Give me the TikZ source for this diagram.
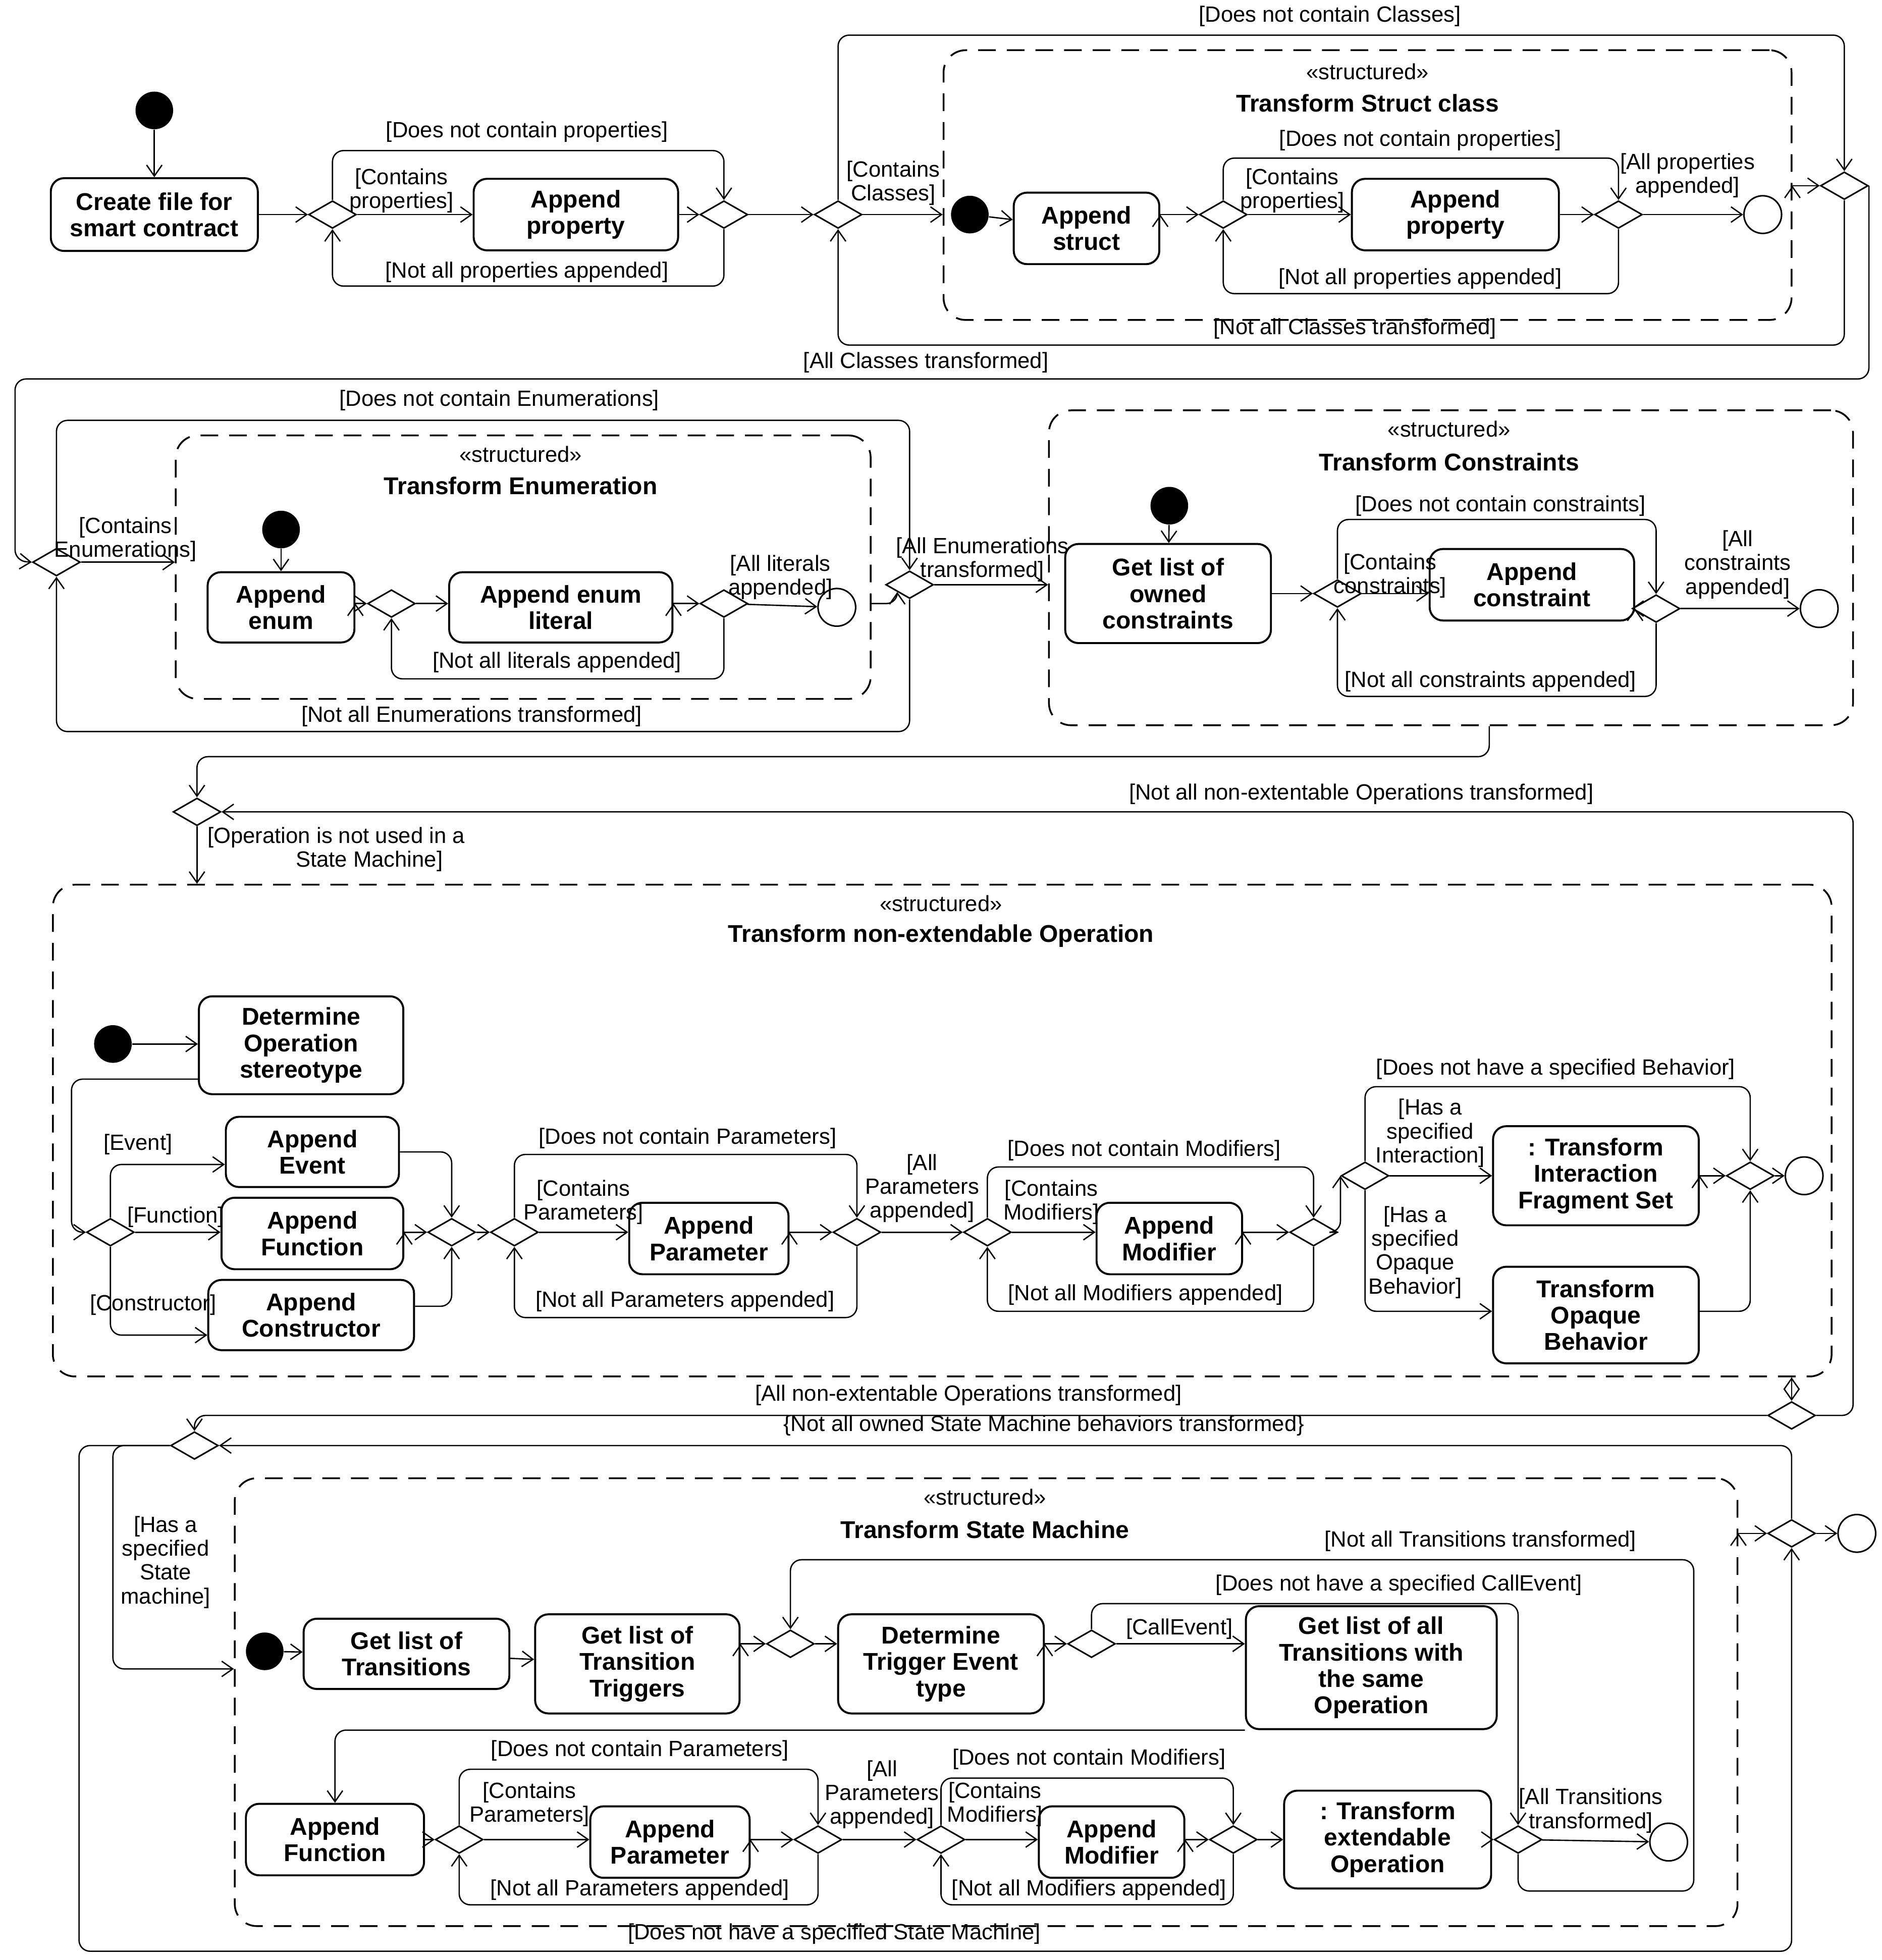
\documentclass[tikz,border=0pt]{standalone}
\usepackage{fontspec}
\setmainfont{Liberation Sans}
\usetikzlibrary{shapes.geometric,arrows.meta}
\begin{document}
\begin{tikzpicture}[x=0.02cm,y=-0.02cm,
    act/.style ={rectangle, rounded corners=6pt, draw=black, line width=0.9pt, fill=white, align=center, font=\fontsize{11}{12}\selectfont\bfseries, inner sep=1pt},
    dec/.style ={diamond, draw=black, line width=0.7pt, fill=white, minimum width=0.76cm, minimum height=0.44cm, inner sep=0pt},
    init/.style ={circle, fill=black, minimum size=0.6cm, inner sep=0pt},
    fin/.style ={circle, draw=black, line width=0.7pt, fill=white, minimum size=0.6cm, inner sep=0pt, path picture={\fill (path picture bounding box.center) circle (0.17cm);}},
    region/.style ={rectangle, rounded corners=10pt, draw=black, line width=0.8pt, dash pattern=on 8pt off 5pt},
    lbl/.style ={align=center, inner sep=0pt, font=\fontsize{10}{10.8}\selectfont},
    ttl/.style ={inner sep=0pt, font=\fontsize{11}{12}\selectfont\bfseries},
    line/.style ={draw, line width=0.6pt, rounded corners=5pt, -{Straight Barb[length=5pt,width=7pt]}}]
    \useasboundingbox (0,0) rectangle (1500,1562);
    % top row: file and Struct classes
    \node [init] (i1) at (123,88) {};
    \node [act, minimum width=3.3cm, minimum height=1.16cm] (create) at (123,171) {Create file for\\smart contract};
    \node [dec] (d1) at (265,171) {};
    \node [act, minimum width=3.26cm, minimum height=1.14cm] (aprop1) at (459,171) {Append\\property};
    \node [dec] (d2) at (577,171) {};
    \node [dec] (d3) at (668,171) {};
    \node [region, minimum width=13.52cm, minimum height=4.3cm] (struct) at (1090,147.5) {};
    \node [lbl] (sst1) at (1090,57) {«structured»};
    \node [ttl] (tst1) at (1090,82) {Transform Struct class};
    \node [init] (i2) at (773,171) {};
    \node [act, minimum width=2.32cm, minimum height=1.14cm] (astruct) at (866,182) {Append\\struct};
    \node [dec] (d5) at (975,171) {};
    \node [act, minimum width=3.3cm, minimum height=1.14cm] (aprop2) at (1160,171) {Append\\property};
    \node [dec] (d6) at (1290,171) {};
    \node [fin] (f1) at (1405,171) {};
    \node [dec] (d4) at (1470,148) {};
    % second row: Enumerations and Constraints
    \node [dec] (d7) at (45,448) {};
    \node [region, minimum width=11.08cm, minimum height=4.2cm] (enum) at (417,452) {};
    \node [lbl] (sst2) at (415,362) {«structured»};
    \node [ttl] (tst2) at (415,387) {Transform Enumeration};
    \node [init] (i3) at (224,422) {};
    \node [act, minimum width=2.34cm, minimum height=1.12cm] (aenum) at (224,484) {Append\\enum};
    \node [dec] (d9) at (312,481) {};
    \node [act, minimum width=3.56cm, minimum height=1.12cm] (alit) at (447,484) {Append enum\\literal};
    \node [dec] (d10) at (577,481) {};
    \node [fin] (f2) at (667,484) {};
    \node [dec] (d8) at (725,466) {};
    \node [region, minimum width=12.82cm, minimum height=5.02cm] (cons) at (1156.5,452.5) {};
    \node [lbl] (sst3) at (1155,342) {«structured»};
    \node [ttl] (tst3) at (1155,368) {Transform Constraints};
    \node [init] (i4) at (932,403) {};
    \node [act, minimum width=3.28cm, minimum height=1.58cm] (getcons) at (931,473) {Get list of\\owned\\constraints};
    \node [dec] (d11) at (1066,473) {};
    \node [act, minimum width=3.26cm, minimum height=1.14cm] (acons) at (1221,466) {Append\\constraint};
    \node [dec] (d12) at (1320,485) {};
    \node [fin] (f3) at (1450,485) {};
    % third row: non-extendable Operation
    \node [dec] (d13) at (157,647) {};
    \node [region, minimum width=28.36cm, minimum height=7.84cm] (op) at (751,901) {};
    \node [lbl] (sst4) at (750,720) {«structured»};
    \node [ttl] (tst4) at (750,746) {Transform non-extendable Operation};
    \node [init] (i5) at (90,832) {};
    \node [act, minimum width=3.26cm, minimum height=1.56cm] (detop) at (240,833) {Determine\\Operation\\stereotype};
    \node [dec] (d15) at (88,982) {};
    \node [act, minimum width=2.76cm, minimum height=1.12cm] (aevent) at (249,918) {Append\\Event};
    \node [act, minimum width=2.9cm, minimum height=1.14cm] (afunc) at (249,983) {Append\\Function};
    \node [act, minimum width=3.28cm, minimum height=1.12cm] (aconst) at (248,1048) {Append\\Constructor};
    \node [dec] (d16) at (360,982) {};
    \node [dec] (d17) at (410,982) {};
    \node [act, minimum width=2.54cm, minimum height=1.14cm] (apar) at (565,987) {Append\\Parameter};
    \node [dec] (d18) at (683,982) {};
    \node [dec] (d19) at (787,982) {};
    \node [act, minimum width=2.32cm, minimum height=1.14cm] (amod) at (932,987) {Append\\Modifier};
    \node [dec] (d20) at (1047,982) {};
    \node [dec] (d21) at (1088,937) {};
    \node [act, minimum width=3.28cm, minimum height=1.58cm] (ifs) at (1272,937) {: Transform\\Interaction\\Fragment Set};
    \node [act, minimum width=3.28cm, minimum height=1.54cm] (opaque) at (1272,1048) {Transform\\Opaque\\Behavior};
    \node [dec] (d22) at (1395,937) {};
    \node [fin] (f4) at (1438,937) {};
    \node [dec] (d14) at (1428,1128) {};
    % fourth row: State Machine
    \node [dec] (d23) at (155,1152) {};
    \node [region, minimum width=23.96cm, minimum height=7.14cm] (sm) at (786,1356.5) {};
    \node [lbl] (sst5) at (785,1193) {«structured»};
    \node [ttl] (tst5) at (785,1219) {Transform State Machine};
    \node [dec] (d24) at (1428,1222) {};
    \node [fin] (f5) at (1480,1222) {};
    \node [init] (i6) at (211,1316) {};
    \node [act, minimum width=3.28cm, minimum height=1.12cm] (gtr) at (324,1318) {Get list of\\Transitions};
    \node [act, minimum width=3.26cm, minimum height=1.58cm] (gtt) at (508,1326) {Get list of\\Transition\\Triggers};
    \node [dec] (d25) at (630,1310) {};
    \node [act, minimum width=3.28cm, minimum height=1.58cm] (dtet) at (750,1326) {Determine\\Trigger Event\\type};
    \node [dec] (d26) at (870,1310) {};
    \node [act, minimum width=4cm, minimum height=1.96cm] (gall) at (1093,1329) {Get list of all\\Transitions with\\the same\\Operation};
    \node [act, minimum width=2.84cm, minimum height=1.14cm] (afunc2) at (267,1466) {Append\\Function};
    \node [dec] (d28) at (366,1466) {};
    \node [act, minimum width=2.54cm, minimum height=1.14cm] (apar2) at (534,1468) {Append\\Parameter};
    \node [dec] (d29) at (652,1466) {};
    \node [dec] (d30) at (750,1466) {};
    \node [act, minimum width=2.32cm, minimum height=1.14cm] (amod2) at (886,1468) {Append\\Modifier};
    \node [dec] (d31) at (983,1466) {};
    \node [act, minimum width=3.3cm, minimum height=1.56cm] (teo) at (1106,1466) {: Transform\\extendable\\Operation};
    \node [dec] (d27) at (1210,1466) {};
    \node [fin] (f6) at (1330,1468) {};
    % guard labels
    \node [lbl] at (420,105) {[Does not contain properties]};
    \node [lbl] at (320,152) {[Contains\\properties]};
    \node [lbl] at (420,217) {[Not all properties appended]};
    \node [lbl] at (1060,13) {[Does not contain Classes]};
    \node [lbl] at (712,146) {[Contains\\Classes]};
    \node [lbl] at (1080,262) {[Not all Classes transformed]};
    \node [lbl] at (1132,112) {[Does not contain properties]};
    \node [lbl] at (1030,152) {[Contains\\properties]};
    \node [lbl] at (1132,222) {[Not all properties appended]};
    \node [lbl] at (1345,140) {[All properties\\appended]};
    \node [lbl] at (738,289) {[All Classes transformed]};
    \node [lbl] at (398,319) {[Does not contain Enumerations]};
    \node [lbl] at (100,430) {[Contains\\Enumerations]};
    \node [lbl] at (376,571) {[Not all Enumerations transformed]};
    \node [lbl] at (622,460) {[All literals\\appended]};
    \node [lbl] at (444,528) {[Not all literals appended]};
    \node [lbl] at (783,446) {[All Enumerations\\transformed]};
    \node [lbl] at (1196,403) {[Does not contain constraints]};
    \node [lbl] at (1108,459) {[Contains\\constraints]};
    \node [lbl] at (1188,543) {[Not all constraints appended]};
    \node [lbl] at (1385,450) {[All\\constraints\\appended]};
    \node [lbl] at (1085,633) {[Not all non-extentable Operations transformed]};
    \node [lbl] at (268,677) {[Operation is not used in a\\\hspace*{3em}State Machine]};
    \node [lbl] at (110,912) {[Event]};
    \node [lbl] at (140,970) {[Function]};
    \node [lbl] at (122,1040) {[Constructor]};
    \node [lbl] at (548,907) {[Does not contain Parameters]};
    \node [lbl] at (465,958) {[Contains\\Parameters]};
    \node [lbl] at (546,1037) {[Not all Parameters appended]};
    \node [lbl] at (735,947) {[All\\Parameters\\appended]};
    \node [lbl] at (912,917) {[Does not contain Modifiers]};
    \node [lbl] at (838,958) {[Contains\\Modifiers]};
    \node [lbl] at (913,1032) {[Not all Modifiers appended]};
    \node [lbl] at (1240,852) {[Does not have a specified Behavior]};
    \node [lbl] at (1140,903) {[Has a\\specified\\Interaction]};
    \node [lbl] at (1128,998) {[Has a\\specified\\Opaque\\Behavior]};
    \node [lbl] at (772,1112) {[All non-extentable Operations transformed]};
    \node [lbl] at (832,1136) {\{Not all owned State Machine behaviors transformed\}};
    \node [lbl] at (132,1245) {[Has a\\specified\\State\\machine]};
    \node [lbl] at (665,1541) {[Does not have a specified State Machine]};
    \node [lbl] at (1180,1228) {[Not all Transitions transformed]};
    \node [lbl] at (1115,1263) {[Does not have a specified CallEvent]};
    \node [lbl] at (940,1298) {[CallEvent]};
    \node [lbl] at (1268,1443) {[All Transitions\\transformed]};
    \node [lbl] at (510,1395) {[Does not contain Parameters]};
    \node [lbl] at (422,1438) {[Contains\\Parameters]};
    \node [lbl] at (510,1506) {[Not all Parameters appended]};
    \node [lbl] at (703,1430) {[All\\Parameters\\appended]};
    \node [lbl] at (868,1402) {[Does not contain Modifiers]};
    \node [lbl] at (793,1438) {[Contains\\Modifiers]};
    \node [lbl] at (868,1506) {[Not all Modifiers appended]};
    % connecting nodes with paths
    \begin{scope}[every path/.style=line]
        \path (i1) edge (create);
        \path (create) edge (d1);
        \path (d1) edge (aprop1);
        \path (aprop1) edge (d2);
        \draw (d1.north) |- (420,120) -| (d2.north);
        \draw (d2.south) |- (420,228) -| (d1.south);
        \path (d2) edge (d3);
        \draw (d3.north) |- (1000,28) -| (d4.north);
        \draw (d4.south) |- (1000,275) -| (d3.south);
        \path (d3) edge (struct.west|-d3);
        \path (i2) edge (astruct);
        \path (astruct.east|-d5) edge (d5);
        \path (d5) edge (aprop2);
        \path (aprop2) edge (d6);
        \path (d6) edge (f1);
        \draw (d5.north) |- (1132,126) -| (d6.north);
        \draw (d6.south) |- (1132,234) -| (d5.south);
        \path (struct.east|-d4) edge (d4);
        \draw (d4.east) -- ++(0,154) -| (12,447) -- (d7.west);
        \draw (d7.north) |- (400,335) -| (d8.north);
        \draw (d8.south) |- (400,583) -| (d7.south);
        \path (d7) edge (enum.west|-d7);
        \path (i3) edge (aenum);
        \path (aenum.east|-d9) edge (d9);
        \path (d9) edge (alit.west|-d9);
        \path (alit.east|-d10) edge (d10);
        \path (d10) edge (f2);
        \draw (d10.south) |- (444,541) -| (d9.south);
        \draw (enum.east|-0,481) -| (d8.south west);
        \path (d8) edge (cons.west|-d8);
        \path (i4) edge (getcons);
        \path (getcons) edge (d11);
        \path (d11) edge (acons.west|-d11);
        \path (acons.east|-d12) edge (d12);
        \path (d12) edge (f3);
        \draw (d11.north) |- (1196,414) -| (d12.north);
        \draw (d12.south) |- (1190,555) -| (d11.south);
        \draw (cons.south-|1187,0) |- (600,603) -| (d13.north);
        \path (d13) edge (op.north-|d13);
        \draw (d14.east) -| (1477,647) -- (d13.east);
        \path (i5) edge (detop.west|-i5);
        \draw (detop.west|-0,860) -| (57,982) -- (d15.west);
        \draw (d15.north) |- (aevent.west|-0,928);
        \path (d15) edge (afunc.west|-d15);
        \draw (d15.south) |- (aconst.west|-0,1064);
        \draw (aevent.east) -| (d16.north);
        \path (afunc.east|-d16) edge (d16);
        \draw (aconst.east|-0,1041) -| (d16.south);
        \path (d16) edge (d17);
        \path (d17) edge (apar.west|-d17);
        \path (apar.east|-d18) edge (d18);
        \draw (d17.north) |- (548,920) -| (d18.north);
        \draw (d18.south) |- (548,1050) -| (d17.south);
        \path (d18) edge (d19);
        \path (d19) edge (amod.west|-d19);
        \path (amod.east|-d20) edge (d20);
        \draw (d19.north) |- (912,930) -| (d20.north);
        \draw (d20.south) |- (912,1045) -| (d19.south);
        \draw (d20.east) -| (d21.west);
        \path (d21) edge (ifs.west|-d21);
        \draw (d21.south) |- (opaque.west|-0,1045);
        \draw (d21.north) |- (1240,866) -| (d22.north);
        \path (ifs.east|-d22) edge (d22);
        \draw (opaque.east|-0,1045) -| (d22.south);
        \path (d22) edge (f4);
        \path (op.south-|d14) edge (d14);
        \draw (d14.west) -| (d23.north);
        \draw (d24.north) |- (d23.east);
        \draw (d23.west) -| (63,1555) -| (d24.south);
        \draw (d23.west) -| (90,1330) -- (sm.west|-0,1330);
        \path (sm.east|-d24) edge (d24);
        \path (d24) edge (f5);
        \path (i6) edge (gtr);
        \path (gtr) edge (gtt);
        \path (gtt.east|-d25) edge (d25);
        \path (d25) edge (dtet.west|-d25);
        \path (dtet.east|-d26) edge (d26);
        \path (d26) edge (gall.west|-d26);
        \draw (d26.north) |- (1100,1278) -| (d27.north);
        \draw (d27.south) |- (1350,1507) |- (630,1243) -- (d25.north);
        \draw (gall.south west) -| (afunc2.north);
        \path (afunc2) edge (d28);
        \path (d28) edge (apar2.west|-d28);
        \path (apar2.east|-d29) edge (d29);
        \draw (d28.north) |- (510,1410) -| (d29.north);
        \draw (d29.south) |- (510,1518) -| (d28.south);
        \path (d29) edge (d30);
        \path (d30) edge (amod2.west|-d30);
        \path (amod2.east|-d31) edge (d31);
        \draw (d30.north) |- (868,1417) -| (d31.north);
        \draw (d31.south) |- (868,1518) -| (d30.south);
        \path (d31) edge (teo);
        \path (teo) edge (d27);
        \path (d27) edge (f6);
    \end{scope}
\end{tikzpicture}
\end{document}
